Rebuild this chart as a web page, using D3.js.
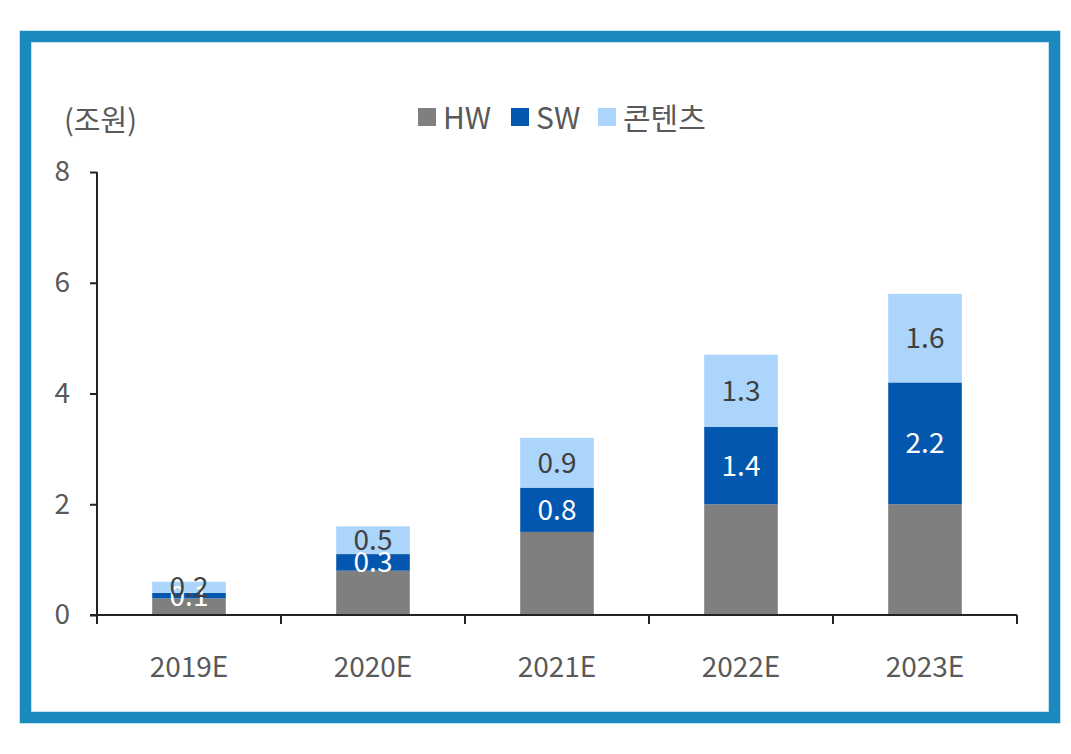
<!DOCTYPE html>
<html>
<head>
<meta charset="utf-8">
<script src="https://cdn.jsdelivr.net/npm/d3@7"></script>
<style>
  body { margin: 0; background: #fff; }
  text { font-family: "Noto Sans CJK KR", "Noto Sans", sans-serif; }
</style>
</head>
<body>
<div id="chart"></div>
<script>
// data (unit: 조원)
const years = ["2019E", "2020E", "2021E", "2022E", "2023E"]
const seriesNames = ["HW", "SW", "콘텐츠"]
const hw = [0.3, 0.8, 1.5, 2.0, 2.0]
const sw = [0.1, 0.3, 0.8, 1.4, 2.2]
const contents = [0.2, 0.5, 0.9, 1.3, 1.6]
const yTicks = [0, 2, 4, 6, 8]

const colors = ["#7f7f7f", "#0457ae", "#abd5fb"]
const labelColors = [null, "#ffffff", "#404040"]   // HW 값은 표시 안 함

const W = 1071, H = 754
const margin = { top: 172, right: 54, bottom: 139, left: 97 }
const width = W - margin.left - margin.right
const height = H - margin.top - margin.bottom

const svg = d3.select("#chart").append("svg")
  .attr("width", W).attr("height", H)

// 파란 테두리
svg.append("rect")
  .attr("x", 25.5).attr("y", 36.5)
  .attr("width", 1029).attr("height", 681)
  .attr("fill", "none")
  .attr("stroke", "#1b8bbf")
  .attr("stroke-width", 11.5)

const g = svg.append("g").attr("transform", `translate(${margin.left},${margin.top})`)

const x = d3.scaleBand().domain(years).range([0, width]).paddingInner(0.6).paddingOuter(0.3)
const y = d3.scaleLinear().domain([0, 8]).range([height, 0])

const table = years.map((yr, i) => ({ year: yr, HW: hw[i], SW: sw[i], "콘텐츠": contents[i] }))
const stacked = d3.stack().keys(seriesNames)(table)

// bars
stacked.forEach((layer, k) => {
  g.append("g").selectAll("rect")
    .data(layer)
    .join("rect")
      .attr("x", d => x(d.data.year))
      .attr("width", x.bandwidth())
      .attr("y", d => y(d[1]))
      .attr("height", d => y(d[0]) - y(d[1]))
      .attr("fill", colors[k])
})

// value labels (SW, 콘텐츠) - 작은 막대에서는 원본처럼 겹침
stacked.forEach((layer, k) => {
  if (!labelColors[k]) return
  g.append("g").selectAll("text")
    .data(layer)
    .join("text")
      .attr("x", d => x(d.data.year) + x.bandwidth() / 2)
      .attr("y", d => (y(d[0]) + y(d[1])) / 2)
      .attr("dy", "0.36em")
      .attr("text-anchor", "middle")
      .attr("font-size", 28)
      .attr("fill", labelColors[k])
      .text(d => (d[1] - d[0]).toFixed(1))
})

// y axis
const yAxis = g.append("g")
  .call(d3.axisLeft(y).tickValues(yTicks).tickSize(7).tickPadding(20).tickFormat(d3.format("d")))
yAxis.select(".domain").attr("stroke", "#222").attr("stroke-width", 2).attr("d", `M0,${height}V0`)
yAxis.selectAll(".tick line").attr("stroke", "#222").attr("stroke-width", 2)
yAxis.selectAll(".tick text").attr("font-size", 28).attr("fill", "#595959")
  .attr("font-family", "'Noto Sans CJK KR', sans-serif")

// x axis: category boundaries as ticks
const xb = d3.scaleLinear().domain([0, years.length]).range([0, width])
const xAxis = g.append("g").attr("transform", `translate(0,${height})`)
xAxis.append("line")
  .attr("x1", -7).attr("x2", width).attr("stroke", "#222").attr("stroke-width", 2)
xAxis.selectAll("line.tk")
  .data(d3.range(years.length + 1))
  .join("line")
    .attr("class", "tk")
    .attr("x1", d => xb(d)).attr("x2", d => xb(d))
    .attr("y1", 0).attr("y2", 9)
    .attr("stroke", "#222").attr("stroke-width", 2)
xAxis.selectAll("text")
  .data(years)
  .join("text")
    .attr("x", d => x(d) + x.bandwidth() / 2)
    .attr("y", 62)
    .attr("text-anchor", "middle")
    .attr("font-size", 28)
    .attr("fill", "#595959")
    .text(d => d)

// unit
svg.append("text")
  .attr("x", 64).attr("y", 131)
  .attr("font-size", 29)
  .attr("fill", "#595959")
  .text("(조원)")

// legend
const legendX = [418, 511, 598]
const legend = svg.append("g")
seriesNames.forEach((name, i) => {
  legend.append("rect")
    .attr("x", legendX[i]).attr("y", 108)
    .attr("width", 18).attr("height", 18)
    .attr("fill", colors[i])
  legend.append("text")
    .attr("x", legendX[i] + 25).attr("y", 129)
    .attr("font-size", 30)
    .attr("fill", "#595959")
    .text(name)
})
</script>
</body>
</html>
